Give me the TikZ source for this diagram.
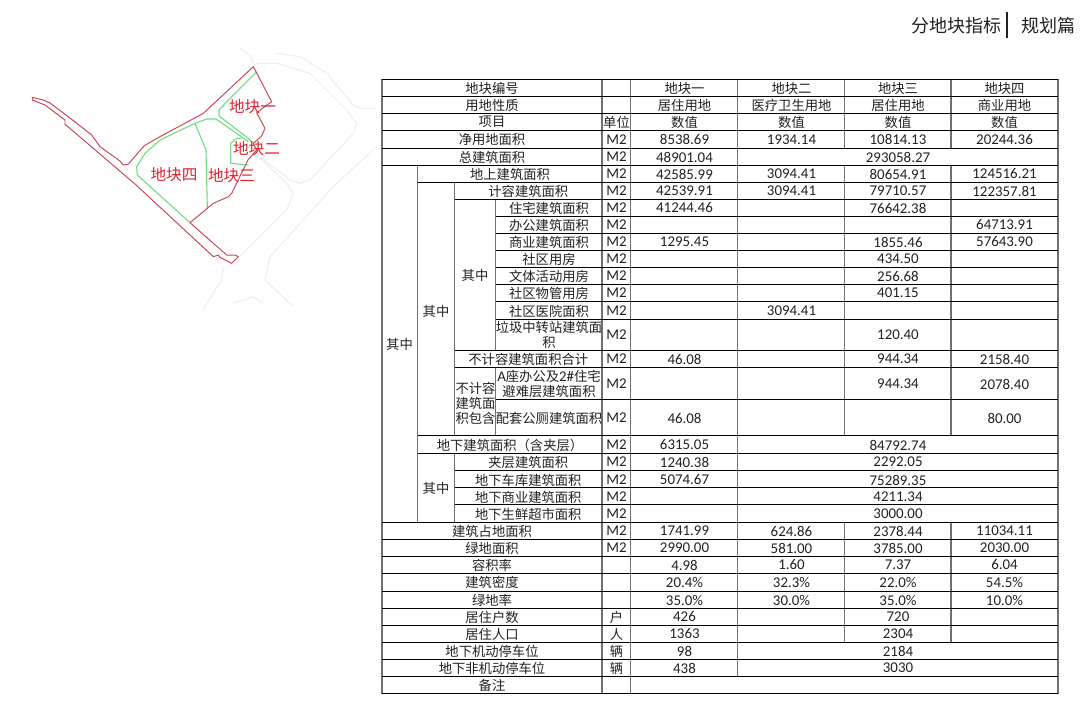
\documentclass[tikz,border=0pt]{standalone}
\usepackage{fontspec}
\setmainfont{Carlito}
\newfontfamily\cjk{Noto Sans CJK SC}
\newcommand{\cellfont}{\cjk\fontsize{9.46}{10.7}\selectfont}
\newcommand{\numfont}{\rmfamily\fontsize{10.6}{10.7}\selectfont}
\definecolor{inktext}{HTML}{222222}
\definecolor{gridgray}{HTML}{707070}
\definecolor{lotred}{HTML}{C44A58}
\definecolor{lotgreen}{HTML}{74DC86}
\definecolor{roadgray}{HTML}{EFEFEF}
\definecolor{labelred}{HTML}{E3202E}
\tikzset{
  cell/.style={font=\cellfont,text=inktext,inner sep=0pt,align=center},
  num/.style={font=\numfont,text=inktext,inner sep=0pt},
  hline/.style={line width=0.72pt,black},
  vline/.style={line width=1.25pt,gridgray},
  lotlabel/.style={font=\cjk\fontsize{11.1}{12}\selectfont,text=labelred,inner sep=0pt},
  titletext/.style={font=\cjk\fontsize{12.8}{14}\selectfont,text=inktext,inner sep=0pt}
}
\begin{document}
\begin{tikzpicture}[x=0.025cm,y=-0.025cm]
\useasboundingbox[fill=white] (0,0) rectangle (1089,716);
\begin{scope}[x=0.025cm/3,y=-0.025cm/3,yshift=-1cm,line join=round]
  \draw[roadgray,line width=0.8pt] (720,25) -- (750,45) -- (762,72);
  \draw[roadgray,line width=0.8pt] (830,40) -- (900,50) -- (980,100) -- (1060,195) -- (1080,205) -- (1130,205);
  \draw[roadgray,line width=0.8pt] (770,70) -- (830,70) -- (930,100) -- (1040,210) -- (1070,250) -- (1060,280) -- (930,420) -- (900,430) -- (870,420) -- (780,350);
  \draw[roadgray,line width=0.8pt] (770,345) -- (860,430) -- (880,460) -- (860,510) -- (720,650);
  \draw[roadgray,line width=0.8pt] (1130,320) -- (1000,440) -- (810,650) -- (795,720) -- (880,800);
  \draw[roadgray,line width=0.8pt] (670,680) -- (665,720) -- (620,790) -- (610,810);
  \draw[roadgray,line width=0.8pt] (700,790) -- (760,770) -- (790,790);
  \draw[lotgreen,line width=0.8pt] (768,97) -- (690,175) -- (657,210) -- (657,228) -- (745,295) -- (760,310);
  \draw[lotgreen,line width=0.8pt] (745,305) -- (648,237) -- (620,237) -- (585,250) -- (480,300) -- (435,340) -- (410,380) -- (412,405) -- (570,548);
  \draw[lotgreen,line width=0.8pt] (585,250) -- (618,330) -- (622,505);
  \draw[lotgreen,line width=0.8pt] (725,295) -- (710,295) -- (692,310) -- (692,370) -- (745,375);
  \draw[lotred,line width=0.7pt] (97,172) -- (130,180) -- (150,189) -- (210,234) -- (275,285) -- (300,320) -- (360,363) -- (369,375) -- (384,373) -- (393,363) -- (432,318) -- (445,310) -- (480,290) -- (610,220) -- (760,80) -- (815,185) -- (770,218) -- (795,265) -- (785,288) -- (760,310) -- (770,330) -- (745,358) -- (695,460) -- (685,470) -- (640,490) -- (622,505) -- (570,548) -- (680,645) -- (705,645) -- (715,650) -- (695,670) -- (660,652) -- (655,645) -- (640,650) -- (405,432) -- (204,260) -- (195,253) -- (195,240) -- (135,195) -- (97,180) -- cycle;
\end{scope}
\node[lotlabel] (lot1) at (252.5,107) {地块一};
\node[lotlabel] (lot2) at (256.5,149) {地块二};
\node[lotlabel] (lot3) at (231.5,175.5) {地块三};
\node[lotlabel] (lot4) at (174,175) {地块四};
\node[titletext,anchor=east] (chapter) at (1002,26) {分地块指标};
\node[titletext,anchor=west] (volume) at (1021.5,26) {规划篇};
\coordinate (bartop) at (1007,12);
\coordinate (barbot) at (1007,38);
\draw[inktext,line width=1.1pt] (bartop) -- (barbot);
\foreach \x/\a/\b in {382/79.5/693.5,417.5/165.5/522.5,454.5/182.5/435.5,454.5/453.5/522.5,495.5/199.5/350.5,495.5/367.5/435.5,602/79.5/693.5,630.5/79.5/693.5,737.5/79.5/676.5,844.5/79.5/148.5,844.5/165.5/435.5,844.5/522.5/642.5,951/79.5/148.5,951/165.5/435.5,951/522.5/642.5,1058/79.5/693.5}
  \draw[vline] (\x,\a) -- (\x,\b);
\foreach \y in {79.5,96.5,113.5,130.5,148.5,165.5,522.5,539.5,556.5,573.5,591.5,608.5,625.5,642.5,659.5,676.5,693.5}
  \draw[hline] (382,\y) -- (1058,\y);
\foreach \y in {182.5,435.5,453.5}
  \draw[hline] (417.5,\y) -- (1058,\y);
\foreach \y in {199.5,350.5,367.5,470.5,487.5,504.5}
  \draw[hline] (454.5,\y) -- (1058,\y);
\foreach \y in {216.5,233.5,250.5,267.5,284.5,301.5,319.5,399.5}
  \draw[hline] (495.5,\y) -- (1058,\y);
\foreach \y/\l [count=\n] in {88/地块编号,105/用地性质,122/项目,139.5/净用地面积,157/总建筑面积,531/建筑占地面积,548/绿地面积,565/容积率,582.5/建筑密度,600/绿地率,617/居住户数,634/居住人口,651/地下机动停车位,668/地下非机动停车位,685/备注}
  \node[cell] (wide\n) at (492,\y) {\l};
\foreach \y/\l [count=\n] in {174/地上建筑面积,445/地下建筑面积（含夹层）}
  \node[cell] (mid\n) at (510,\y) {\l};
\foreach \y/\l [count=\n] in {191/计容建筑面积,359/不计容建筑面积合计,462/夹层建筑面积,480/地下车库建筑面积,497/地下商业建筑面积,514/地下生鲜超市面积}
  \node[cell] (sub\n) at (528.3,\y) {\l};
\foreach \y/\l [count=\n] in {208/住宅建筑面积,225/办公建筑面积,242/商业建筑面积,259/社区用房,276/文体活动用房,293/社区物管用房,311/社区医院面积,335/垃圾中转站建筑面\\积,418/配套公厕建筑面积}
  \node[cell] (item\n) at (549,\y) {\l};
\node[cell] (item10) at (549,384) {{\numfont A}座办公及{\numfont 2\#}住宅\\避难层建筑面积};
\node[cell] (among1) at (399.5,344) {其中};
\node[cell] (among2) at (436,311) {其中};
\node[cell] (among3) at (475,275.5) {其中};
\node[cell] (among4) at (436,488) {其中};
\node[cell] (excluded) at (475.5,403) {不计容\\建筑面\\积包含};
\node[cell] (unit) at (616.5,122) {单位};
\foreach \y [count=\n] in {139.5,157,174,191,208,225,242,259,276,293,311,335,359,384,418,445,462,480,497,514,531,548}
  \node[num] (m\n) at (616.5,\y) {M2};
\foreach \y/\l [count=\n] in {617/户,634/人,651/辆,668/辆}
  \node[cell] (unit\n) at (616.5,\y) {\l};
\foreach \x/\a/\b/\c [count=\n] in {684.5/地块一/居住用地/数值,791.5/地块二/医疗卫生用地/数值,898/地块三/居住用地/数值,1004.5/地块四/商业用地/数值} {
  \node[cell] (lot\n-id) at (\x,88) {\a};
  \node[cell] (lot\n-use) at (\x,105) {\b};
  \node[cell] (lot\n-head) at (\x,122) {\c};
}
\foreach \y/\l [count=\n] in {139.5/8538.69,157/48901.04,174/42585.99,191/42539.91,208/41244.46,242/1295.45,359/46.08,418/46.08,445/6315.05,462/1240.38,480/5074.67,531/1741.99,548/2990.00,565/4.98,582.5/20.4\%,600/35.0\%,617/426,634/1363,651/98,668/438}
  \node[num] (a\n) at (684.5,\y) {\l};
\foreach \y/\l [count=\n] in {139.5/1934.14,174/3094.41,191/3094.41,311/3094.41,531/624.86,548/581.00,565/1.60,582.5/32.3\%,600/30.0\%}
  \node[num] (b\n) at (791.5,\y) {\l};
\foreach \y/\l [count=\n] in {139.5/10814.13,157/293058.27,174/80654.91,191/79710.57,208/76642.38,242/1855.46,259/434.50,276/256.68,293/401.15,335/120.40,359/944.34,384/944.34,445/84792.74,462/2292.05,480/75289.35,497/4211.34,514/3000.00,531/2378.44,548/3785.00,565/7.37,582.5/22.0\%,600/35.0\%,617/720,634/2304,651/2184,668/3030}
  \node[num] (c\n) at (898,\y) {\l};
\foreach \y/\l [count=\n] in {139.5/20244.36,174/124516.21,191/122357.81,225/64713.91,242/57643.90,359/2158.40,384/2078.40,418/80.00,531/11034.11,548/2030.00,565/6.04,582.5/54.5\%,600/10.0\%}
  \node[num] (d\n) at (1004.5,\y) {\l};
\end{tikzpicture}
\end{document}
